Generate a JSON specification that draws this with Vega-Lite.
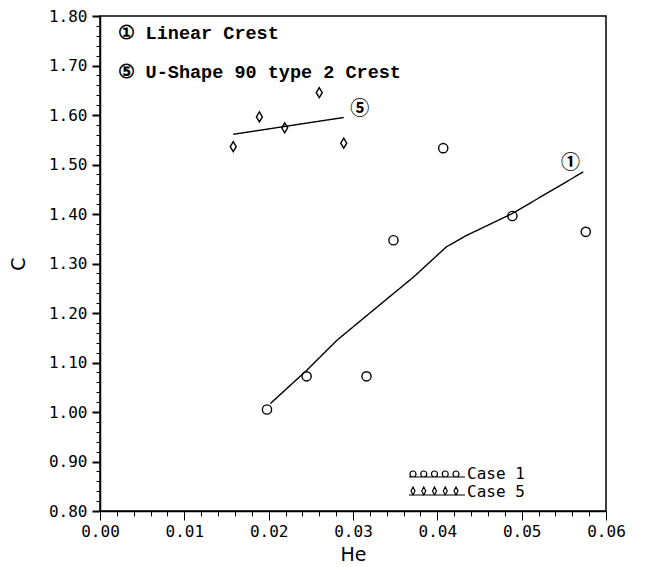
{
  "$schema": "https://vega.github.io/schema/vega-lite/v6.json",
  "width": 506,
  "height": 495,
  "autosize": {"type": "none"},
  "padding": {"left": 100, "top": 16, "right": 39, "bottom": 56},
  "background": "white",
  "datasets": {
    "curves": [
      {"crest": "Linear Crest", "He": 0.0202, "C": 1.017},
      {"crest": "Linear Crest", "He": 0.0245, "C": 1.084},
      {"crest": "Linear Crest", "He": 0.0281, "C": 1.145},
      {"crest": "Linear Crest", "He": 0.033, "C": 1.214},
      {"crest": "Linear Crest", "He": 0.0372, "C": 1.273},
      {"crest": "Linear Crest", "He": 0.0411, "C": 1.334},
      {"crest": "Linear Crest", "He": 0.0435, "C": 1.357},
      {"crest": "Linear Crest", "He": 0.0489, "C": 1.401},
      {"crest": "Linear Crest", "He": 0.0573, "C": 1.485},
      {"crest": "U-Shape 90 type 2 Crest", "He": 0.0158, "C": 1.561},
      {"crest": "U-Shape 90 type 2 Crest", "He": 0.0289, "C": 1.595}
    ],
    "points": [
      {"case": "Case 1", "He": 0.0198, "C": 1.005},
      {"case": "Case 1", "He": 0.0245, "C": 1.072},
      {"case": "Case 1", "He": 0.0316, "C": 1.072},
      {"case": "Case 1", "He": 0.0348, "C": 1.347},
      {"case": "Case 1", "He": 0.0407, "C": 1.533},
      {"case": "Case 1", "He": 0.0489, "C": 1.396},
      {"case": "Case 1", "He": 0.0576, "C": 1.364},
      {"case": "Case 5", "He": 0.0158, "C": 1.536},
      {"case": "Case 5", "He": 0.0189, "C": 1.596},
      {"case": "Case 5", "He": 0.0219, "C": 1.574},
      {"case": "Case 5", "He": 0.026, "C": 1.645},
      {"case": "Case 5", "He": 0.0289, "C": 1.543}
    ],
    "tags": [
      {"tag": "①", "He": 0.0558, "C": 1.503},
      {"tag": "⑤", "He": 0.0308, "C": 1.613}
    ]
  },
  "resolve": {"axis": {"x": "independent", "y": "independent"}},
  "layer": [
    {
      "data": {"name": "curves"},
      "mark": {"type": "line", "color": "black", "strokeWidth": 1.4},
      "encoding": {
        "x": {
          "field": "He", "type": "quantitative",
          "scale": {"domain": [0, 0.06], "nice": false, "zero": false},
          "axis": {
            "orient": "bottom",
            "title": "He",
            "tickCount": 6,
            "format": ".2f",
            "tickSize": 9,
            "labelPadding": 3,
            "titlePadding": 6
          }
        },
        "y": {
          "field": "C", "type": "quantitative",
          "scale": {"domain": [0.8, 1.8], "nice": false, "zero": false},
          "axis": {
            "orient": "left",
            "title": "C",
            "values": [0.8, 0.9, 1, 1.1, 1.2, 1.3, 1.4, 1.5, 1.6, 1.7, 1.8],
            "format": ".2f",
            "ticks": true, "tickSize": 8, "tickColor": "#000000", "tickWidth": 2,
            "labelPadding": 5,
            "titlePadding": 20
          }
        },
        "strokeDash": {
          "field": "crest", "type": "nominal",
          "scale": {"domain": ["Linear Crest", "U-Shape 90 type 2 Crest"], "range": [[1, 0], [1, 0]]},
          "legend": {
            "orient": "none", "legendX": -1, "legendY": 8,
            "title": null, "padding": 0, "rowPadding": 20,
            "labelFont": "Liberation Mono", "labelFontSize": 18.5, "labelFontWeight": "bold", "labelColor": "black",
            "labelLimit": 0, "labelOffset": 0, "symbolSize": 0, "symbolOpacity": 0,
            "labelExpr": "datum.label === 'Linear Crest' ? '① Linear Crest' : '⑤ U-Shape 90 type 2 Crest'"
          }
        }
      }
    },
    {
      "data": {"name": "points"},
      "transform": [{"filter": "datum.case === 'Case 1'"}],
      "mark": {"type": "point", "shape": "circle", "filled": false, "color": "black", "strokeWidth": 1.4, "size": 85, "opacity": 1},
      "encoding": {
        "x": {"field": "He", "type": "quantitative", "axis": null},
        "y": {"field": "C", "type": "quantitative", "axis": null}
      }
    },
    {
      "data": {"name": "points"},
      "transform": [{"filter": "datum.case === 'Case 5'"}],
      "mark": {"type": "point", "shape": "M0,-1L0.6,0L0,1L-0.6,0Z", "filled": false, "color": "black", "strokeWidth": 1.4, "size": 100, "opacity": 1},
      "encoding": {
        "x": {"field": "He", "type": "quantitative", "axis": null},
        "y": {"field": "C", "type": "quantitative", "axis": null}
      }
    },
    {
      "data": {"name": "points"},
      "mark": {"type": "point", "filled": false, "color": "black", "strokeWidth": 1.2, "opacity": 0},
      "encoding": {
        "x": {"field": "He", "type": "quantitative", "axis": null},
        "y": {"field": "C", "type": "quantitative", "axis": null},
        "shape": {
          "field": "case", "type": "nominal",
          "scale": {
            "domain": ["Case 1", "Case 5"],
            "range": [
              "M-9,0a0.6,0.6 0 1,0 1.2,0a0.6,0.6 0 1,0 -1.2,0M-6.85,0a0.6,0.6 0 1,0 1.2,0a0.6,0.6 0 1,0 -1.2,0M-4.7,0a0.6,0.6 0 1,0 1.2,0a0.6,0.6 0 1,0 -1.2,0M-2.55,0a0.6,0.6 0 1,0 1.2,0a0.6,0.6 0 1,0 -1.2,0M-0.4,0a0.6,0.6 0 1,0 1.2,0a0.6,0.6 0 1,0 -1.2,0M-9.2,0.6L2,0.6",
              "M-8.4,-1L-8,-0.2L-8.4,0.6L-8.8,-0.2ZM-6.25,-1L-5.85,-0.2L-6.25,0.6L-6.65,-0.2ZM-4.1,-1L-3.7,-0.2L-4.1,0.6L-4.5,-0.2ZM-1.95,-1L-1.55,-0.2L-1.95,0.6L-2.35,-0.2ZM0.2,-1L0.6,-0.2L0.2,0.6L-0.2,-0.2ZM-9.2,0.6L2,0.6"
            ]
          },
          "legend": {
            "orient": "none", "legendX": 347, "legendY": 450,
            "title": null, "padding": 0, "rowPadding": 2,
            "labelFont": "DejaVu Sans Mono", "labelFontSize": 16, "labelColor": "black",
            "labelOffset": 4, "symbolSize": 100, "symbolOpacity": 1,
            "symbolStrokeColor": "black", "symbolStrokeWidth": 1.2, "symbolFillColor": "transparent"
          }
        }
      }
    },
    {
      "data": {"name": "tags"},
      "mark": {"type": "text", "font": "Noto Sans CJK SC", "fontSize": 19, "fontWeight": "bold", "color": "black"},
      "encoding": {
        "x": {"field": "He", "type": "quantitative", "axis": null},
        "y": {"field": "C", "type": "quantitative", "axis": null},
        "text": {"field": "tag"}
      }
    },
    {
      "data": {"name": "tags"},
      "mark": {"type": "point", "opacity": 0},
      "encoding": {
        "x": {
          "field": "He", "type": "quantitative",
          "axis": {
            "orient": "bottom", "title": null, "labels": false, "domain": false,
            "tickSize": 5, "tickCount": 30
          }
        },
        "y": {
          "field": "C", "type": "quantitative",
          "axis": {
            "orient": "left", "title": null, "labels": false, "domain": false,
            "tickSize": 4, "tickCount": 50
          }
        }
      }
    }
  ],
  "config": {
    "view": {"stroke": "black", "strokeWidth": 1.5},
    "axis": {
      "domainColor": "black", "domainWidth": 1.5,
      "tickColor": "black",
      "labelColor": "black", "titleColor": "black",
      "labelFont": "DejaVu Sans Mono", "labelFontSize": 16,
      "titleFont": "DejaVu Sans", "titleFontSize": 19, "titleFontWeight": "normal",
      "grid": false, "labelFlush": false, "labelOverlap": false
    }
  }
}
